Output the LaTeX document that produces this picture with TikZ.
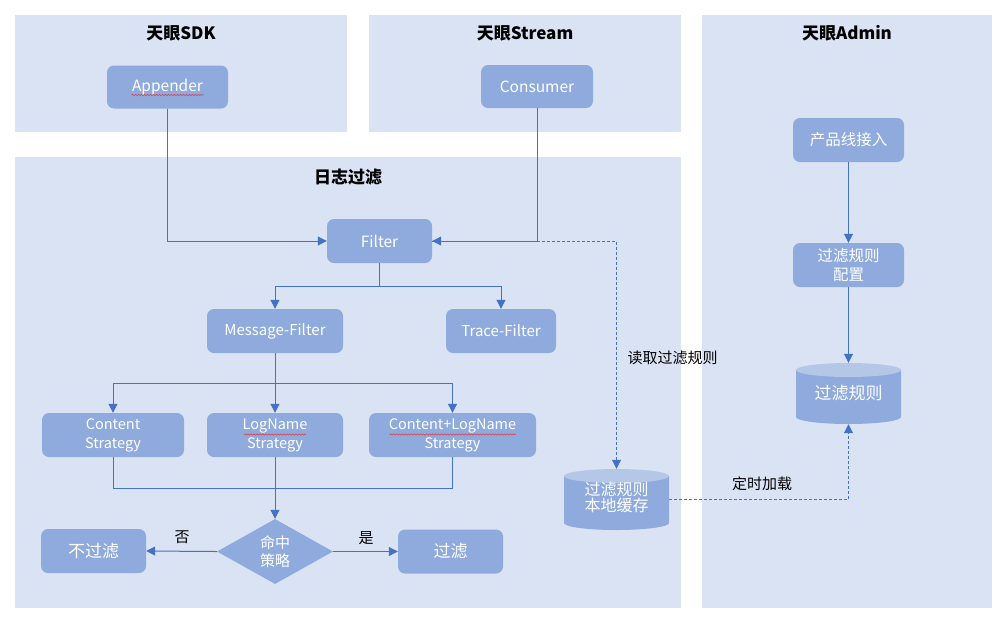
\documentclass[tikz,border=0pt]{standalone}
\usepackage{fontspec}
\setmainfont{Noto Sans CJK SC}
\usetikzlibrary{arrows.meta,shapes.geometric,decorations.pathmorphing}
\definecolor{panel}{HTML}{DAE3F3}
\definecolor{nodec}{HTML}{8FAADC}
\definecolor{linec}{HTML}{4472C4}
\definecolor{cyltop}{HTML}{B4C7E7}
\definecolor{spell}{HTML}{E0404A}
\newcommand\drawcyl[2]{%
  \fill[nodec] ({#1-52.5},{#2+23.5}) -- ({#1-52.5},{#2-23.5}) arc[start angle=180,end angle=360,x radius=52.5,y radius=7] -- ({#1+52.5},{#2+23.5}) -- cycle;
  \fill[cyltop] (#1,{#2+23.5}) ellipse[x radius=52.5,y radius=7];}
\begin{document}
\begin{tikzpicture}[x=1pt,y=1pt,
  box/.style={fill=nodec, rounded corners=7pt, text=white, align=center, font=\fontsize{15.5}{18}\selectfont, inner sep=0pt},
  bigbox/.style={box, font=\fontsize{17}{20}\selectfont},
  dia/.style={diamond, aspect=1.78, fill=nodec, text=white, align=center, inner sep=0pt, minimum width=116pt, minimum height=65pt, font=\fontsize{15}{18}\selectfont},
  cyltext/.style={text=white, align=center, inner sep=0pt, minimum width=105pt, minimum height=61pt},
  title/.style={font=\bfseries\fontsize{17}{20}\selectfont, text=black},
  lbl/.style={font=\fontsize{15}{18}\selectfont, text=black},
  line/.style={draw=linec, line width=1pt},
  conn/.style={line, -{Triangle[length=9pt,width=9pt]}},
  dconn/.style={conn, dash pattern=on 3pt off 2pt},
  wavy/.style={draw=spell, line width=0.6pt, decorate, decoration={snake,amplitude=0.7pt,segment length=3pt}}]
\useasboundingbox (0,0) rectangle (1008,-622);
\fill[white] (0,0) rectangle (1008,-622);
% panels
\fill[panel] (15,-15) rectangle (347,-132);
\fill[panel] (369,-15) rectangle (681,-132);
\fill[panel] (702,-15) rectangle (992,-608);
\fill[panel] (15,-157) rectangle (681,-608);
% titles
\node[title] (tsdk) at (181,-33) {天眼SDK};
\node[title] (tstream) at (525,-33) {天眼Stream};
\node[title] (tadmin) at (847,-33) {天眼Admin};
\node[title] (tlog) at (348,-177) {日志过滤};
% cylinders
\drawcyl{616.5}{-499.5}
\drawcyl{848.5}{-393.5}
% nodes
\node[box, minimum width=121pt, minimum height=43pt] (app) at (167.5,-87) {Appender};
\node[box, minimum width=112pt, minimum height=43pt] (cons) at (537,-86.5) {Consumer};
\node[box, minimum width=105pt, minimum height=44pt] (filter) at (379.5,-241) {Filter};
\node[box, minimum width=136pt, minimum height=44pt, font=\fontsize{15}{18}\selectfont] (msgf) at (275,-331) {Message-Filter};
\node[box, minimum width=110pt, minimum height=44pt, font=\fontsize{15}{18}\selectfont] (tracef) at (501,-331) {Trace-Filter};
\node[box, minimum width=142pt, minimum height=44pt, font=\fontsize{14.5}{19}\selectfont] (cont) at (113,-435) {Content\\Strategy};
\node[box, minimum width=136pt, minimum height=44pt, font=\fontsize{14.5}{19}\selectfont] (logn) at (275,-435) {LogName\\Strategy};
\node[box, minimum width=167pt, minimum height=44pt, font=\fontsize{14.5}{19}\selectfont] (clog) at (452.5,-435) {Content+LogName\\Strategy};
\node[dia] (hit) at (275,-551.5) {命中\\策略};
\node[bigbox, minimum width=105pt, minimum height=44pt] (nof) at (93.5,-551) {不过滤};
\node[bigbox, minimum width=105pt, minimum height=44pt] (yesf) at (450.5,-551.5) {过滤};
\node[box, minimum width=111pt, minimum height=44pt] (prod) at (848.5,-140) {产品线接入};
\node[box, minimum width=111pt, minimum height=44pt, font=\fontsize{15.5}{19}\selectfont] (cfg) at (848.5,-265) {过滤规则\\配置};
\node[cyltext, font=\fontsize{16}{19}\selectfont] (cache) at (616.5,-499.5) {\raisebox{-3pt}{\begin{tabular}{@{}c@{}}过滤规则\\[-3pt]本地缓存\end{tabular}}};
\node[cyltext, font=\fontsize{17}{20}\selectfont] (rules) at (848.5,-393.5) {\raisebox{-4pt}{过滤规则}};
% spell-check marks
\draw[wavy] ([xshift=-36pt,yshift=-8pt]app.center) -- ([xshift=36pt,yshift=-8pt]app.center);
\draw[wavy] ([xshift=-31pt,yshift=0.5pt]logn.center) -- ([xshift=31pt,yshift=0.5pt]logn.center);
\draw[wavy] ([xshift=-63pt,yshift=0.5pt]clog.center) -- ([xshift=63pt,yshift=0.5pt]clog.center);
% junctions
\coordinate (fj) at (379.5,-286);
\coordinate (mj) at (275,-383);
\coordinate (bj) at (275,-488);
% connectors
\draw[dconn] (filter.east) -| (cache.north);
\draw[conn] (app.south) |- (filter.west);
\draw[conn] (cons.south) |- (filter.east);
\draw[line] (filter.south) -- (fj);
\draw[conn] (fj) -| (msgf.north);
\draw[conn] (fj) -| (tracef.north);
\draw[conn] (msgf.south) -- (logn.north);
\draw[conn] (mj) -| (cont.north);
\draw[conn] (mj) -| (clog.north);
\draw[line] (cont.south) |- (bj);
\draw[line] (clog.south) |- (bj);
\draw[conn] (logn.south) -- (hit.north);
\draw[conn] (hit.west) -- (nof.east);
\draw[conn] (hit.east) -- (yesf.west);
\draw[conn] (prod.south) -- (cfg.north);
\draw[conn] (cfg.south) -- (rules.north);
\draw[dconn] (cache.east) -| (rules.south);
% labels
\node[lbl] (lno) at (182,-537) {否};
\node[lbl] (lyes) at (366,-538) {是};
\node[lbl, anchor=west] (lread) at (624,-358) {读取过滤规则};
\node[lbl] (lload) at (762,-484) {定时加载};
\end{tikzpicture}
\end{document}
